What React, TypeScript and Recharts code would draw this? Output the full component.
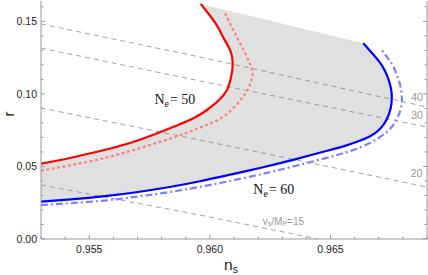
import React from 'react';
import { ComposedChart, Line, Scatter, XAxis, YAxis, ReferenceDot } from 'recharts';

// N_e = 50, solid red
const red50Ns = [0.953, 0.9542, 0.95545, 0.95669, 0.95785, 0.95868, 0.95934, 0.95988, 0.96038, 0.96071, 0.96085, 0.96093, 0.96094, 0.96087, 0.96061, 0.9604, 0.96014, 0.95982, 0.95962];
const red50R = [0.0519, 0.0558, 0.0606, 0.0662, 0.0731, 0.0786, 0.0834, 0.0889, 0.0958, 0.1027, 0.1096, 0.1165, 0.122, 0.1289, 0.1372, 0.144, 0.1509, 0.1578, 0.162];

// N_e = 50, dotted light red
const red50bNs = [0.953, 0.9542, 0.95545, 0.95669, 0.95793, 0.95897, 0.9598, 0.96063, 0.96125, 0.96154, 0.9617, 0.96177, 0.96168, 0.96146, 0.96118, 0.9609, 0.96063];
const red50bR = [0.0471, 0.0507, 0.0551, 0.0606, 0.0669, 0.0727, 0.0782, 0.0851, 0.0955, 0.102, 0.1082, 0.1137, 0.1199, 0.128, 0.1371, 0.1463, 0.1555];

// N_e = 60, solid blue
const blue60Ns = [0.953, 0.95424, 0.95565, 0.95702, 0.95839, 0.95959, 0.96075, 0.96216, 0.96353, 0.96498, 0.9656, 0.9661, 0.96664, 0.96705, 0.96733, 0.9675, 0.96754, 0.96751, 0.96741, 0.96726, 0.96703, 0.96672, 0.96636];
const blue60R = [0.0258, 0.0273, 0.0295, 0.0324, 0.036, 0.0398, 0.044, 0.0493, 0.0549, 0.0613, 0.0642, 0.067, 0.0708, 0.0758, 0.0823, 0.0906, 0.0979, 0.1034, 0.1096, 0.1158, 0.122, 0.1282, 0.1349];

// N_e = 60, dash-dot light blue
const blue60bNs = [0.953, 0.95424, 0.95565, 0.95702, 0.95839, 0.95971, 0.96075, 0.96216, 0.96353, 0.96498, 0.9656, 0.96608, 0.96677, 0.96733, 0.96767, 0.9679, 0.96796, 0.96792, 0.9678, 0.96757, 0.96734, 0.96712];
const blue60bR = [0.0234, 0.0247, 0.0265, 0.0293, 0.0325, 0.0363, 0.0397, 0.0448, 0.0503, 0.0565, 0.0595, 0.0622, 0.0674, 0.0737, 0.0803, 0.0889, 0.0965, 0.1034, 0.111, 0.1199, 0.1254, 0.1303];

// constant v_s/M_P contours
const vsLevels = ['40', '30', '20', 'v_s/M_P=15'];
const vsNs = [
  [0.953, 0.95959, 0.969],
  [0.953, 0.95959, 0.969],
  [0.953, 0.95959, 0.969],
  [0.953, 0.95959, 0.96448],
];
const vsR = [
  [0.1482, 0.1254, 0.091],
  [0.1316, 0.1089, 0.0772],
  [0.0903, 0.0682, 0.0358],
  [0.0372, 0.0165, 0],
];
const vsLabelNs = [0.96859, 0.96859, 0.96857, 0.96305];
const vsLabelR = [0.0972, 0.0848, 0.0448, 0.0124];

const neLabels = ['50', '60'];
const neLabelNs = [0.95855, 0.96265];
const neLabelR = [0.0958, 0.0338];

const xTicks = [0.953, 0.954, 0.955, 0.956, 0.957, 0.958, 0.959, 0.96, 0.961, 0.962, 0.963, 0.964, 0.965, 0.966, 0.967, 0.968, 0.969];
const xLabels = [0.955, 0.96, 0.965];
const yTicks = [0, 0.01, 0.02, 0.03, 0.04, 0.05, 0.06, 0.07, 0.08, 0.09, 0.1, 0.11, 0.12, 0.13, 0.14, 0.15, 0.16];
const yLabels = [0, 0.05, 0.1, 0.15];

const toPts = (ns: number[], r: number[]) => ns.map((v, i) => ({ ns: v, r: r[i] }));

const red50 = toPts(red50Ns, red50R);
const red50b = toPts(red50bNs, red50bR);
const blue60 = toPts(blue60Ns, blue60R);
const blue60b = toPts(blue60bNs, blue60bR);
const band = [...red50, ...blue60.slice().reverse()];

const AXIS = '#999';
const SANS = '"Liberation Sans", Arial, sans-serif';
const SERIF = '"Liberation Serif", "Times New Roman", serif';

const isMajor = (v: number, list: number[]) => list.some((m) => Math.abs(m - v) < 1e-9);

const BottomTick = ({ x, y, payload }: any) => {
  const major = isMajor(payload.value, xLabels);
  return (
    <g>
      <line x1={x} y1={y} x2={x} y2={y - (major ? 4 : 2.5)} stroke={AXIS} />
      {major && (
        <text x={x} y={y + 14} textAnchor="middle" fontSize={10.5} fontFamily={SANS} fill="#222">
          {payload.value.toFixed(3)}
        </text>
      )}
    </g>
  );
};

const TopTick = ({ x, y, payload }: any) => {
  const major = isMajor(payload.value, xLabels);
  return <line x1={x} y1={y} x2={x} y2={y + (major ? 4 : 2.5)} stroke={AXIS} />;
};

const LeftTick = ({ x, y, payload }: any) => {
  const major = isMajor(payload.value, yLabels);
  return (
    <g>
      <line x1={x} y1={y} x2={x + (major ? 4 : 2.5)} y2={y} stroke={AXIS} />
      {major && (
        <text x={x - 4} y={y + 3.7} textAnchor="end" fontSize={10.5} fontFamily={SANS} fill="#222">
          {payload.value.toFixed(2)}
        </text>
      )}
    </g>
  );
};

const RightTick = ({ x, y, payload }: any) => {
  const major = isMajor(payload.value, yLabels);
  return <line x1={x} y1={y} x2={x - (major ? 4 : 2.5)} y2={y} stroke={AXIS} />;
};

const XTitle = ({ viewBox }: any) => {
  const cx = viewBox.x + viewBox.width / 2 - 3;
  return (
    <text x={cx} y={viewBox.y + 31} textAnchor="middle" fontSize={15.5} fontFamily={SANS} fill="#222">
      n<tspan fontSize={10.5} dy={3}>s</tspan>
    </text>
  );
};

const YTitle = () => (
  <text x={13.5} y={114} transform="rotate(-90, 13.5, 114)" textAnchor="middle" fontSize={15} fontFamily={SANS} fill="#222">
    r
  </text>
);

const NeLabel = ({ viewBox, value }: any) => {
  const cx = viewBox.x + viewBox.width / 2;
  const cy = viewBox.y + viewBox.height / 2;
  return (
    <text x={cx} y={cy + 4.5} textAnchor="middle" fontSize={14} fontFamily={SERIF} fill="#111">
      N<tspan fontSize={10} dy={3}>e</tspan>
      <tspan dy={-3} dx={1}>{'= ' + value}</tspan>
    </text>
  );
};

const VsLabel = ({ viewBox, value }: any) => {
  const cx = viewBox.x + viewBox.width / 2;
  const cy = viewBox.y + viewBox.height / 2;
  if (value.startsWith('v_s')) {
    return (
      <text x={cx} y={cy + 3.5} textAnchor="middle" fontSize={10} fontFamily={SANS} fill="#999">
        v<tspan fontSize={7} dy={1.5}>s</tspan>
        <tspan dy={-1.5}>/M</tspan>
        <tspan fontSize={7} dy={1.5}>P</tspan>
        <tspan dy={-1.5}>=15</tspan>
      </text>
    );
  }
  return (
    <text x={cx} y={cy + 3.5} textAnchor="middle" fontSize={10.5} fontFamily={SANS} fill="#999">
      {value}
    </text>
  );
};

const BandShape = (props: any) => {
  const pts = props.points || [];
  if (!pts.length) return <g />;
  const d = pts.map((p: any, i: number) => `${i ? 'L' : 'M'}${p.x},${p.y}`).join('') + 'Z';
  return <path d={d} fill="#e0e0e0" stroke="none" />;
};

export default function App() {
  return (
    <div style={{ position: 'absolute', left: 0, top: 0 }}>
      <ComposedChart width={428} height={275} margin={{ top: 1, right: 0, bottom: 0, left: 0 }}>
        <XAxis
          type="number"
          dataKey="ns"
          domain={[0.953, 0.969]}
          allowDataOverflow
          ticks={xTicks}
          interval={0}
          tick={<BottomTick />}
          tickSize={0}
          tickMargin={0}
          height={36}
          axisLine={{ stroke: AXIS }}
          label={<XTitle />}
        />
        <XAxis
          xAxisId="top"
          orientation="top"
          type="number"
          dataKey="ns"
          domain={[0.953, 0.969]}
          allowDataOverflow
          ticks={xTicks}
          interval={0}
          tick={<TopTick />}
          tickSize={0}
          tickMargin={0}
          height={0}
          axisLine={{ stroke: AXIS }}
        />
        <YAxis
          type="number"
          dataKey="r"
          domain={[0, 0.164]}
          allowDataOverflow
          ticks={yTicks}
          interval={0}
          tick={<LeftTick />}
          tickSize={0}
          tickMargin={0}
          width={41}
          axisLine={{ stroke: AXIS }}
          label={<YTitle />}
        />
        <YAxis
          yAxisId="right"
          orientation="right"
          type="number"
          dataKey="r"
          domain={[0, 0.164]}
          allowDataOverflow
          ticks={yTicks}
          interval={0}
          tick={<RightTick />}
          tickSize={0}
          tickMargin={0}
          width={1}
          axisLine={{ stroke: AXIS }}
        />
        <Scatter data={band} line={BandShape} lineType="joint" shape={() => <g />} zIndex={50} isAnimationActive={false} />
        {vsNs.map((ns, i) => (
          <Line
            key={vsLevels[i]}
            data={toPts(ns, vsR[i])}
            dataKey="r"
            type="linear"
            stroke="#8a8a8a"
            strokeWidth={0.8}
            strokeDasharray="5 4"
            dot={false}
            activeDot={false}
            isAnimationActive={false}
          />
        ))}
        <Line data={red50b} dataKey="r" type="natural" stroke="#ff8080" strokeWidth={2.2} strokeDasharray="3 2.5" dot={false} activeDot={false} isAnimationActive={false} />
        <Line data={blue60b} dataKey="r" type="natural" stroke="#8080ff" strokeWidth={2.2} strokeDasharray="7 3 2 3" dot={false} activeDot={false} isAnimationActive={false} />
        <Line data={red50} dataKey="r" type="natural" stroke="#ff0000" strokeWidth={2.2} dot={false} activeDot={false} isAnimationActive={false} />
        <Line data={blue60} dataKey="r" type="natural" stroke="#0000ff" strokeWidth={2.2} dot={false} activeDot={false} isAnimationActive={false} />
        {vsLevels.map((lab, i) => (
          <ReferenceDot key={'l' + lab} x={vsLabelNs[i]} y={vsLabelR[i]} r={0} fill="none" stroke="none" label={<VsLabel value={lab} />} />
        ))}
        {neLabels.map((lab, i) => (
          <ReferenceDot key={'n' + lab} x={neLabelNs[i]} y={neLabelR[i]} r={0} fill="none" stroke="none" label={<NeLabel value={lab} />} />
        ))}
      </ComposedChart>
    </div>
  );
}
